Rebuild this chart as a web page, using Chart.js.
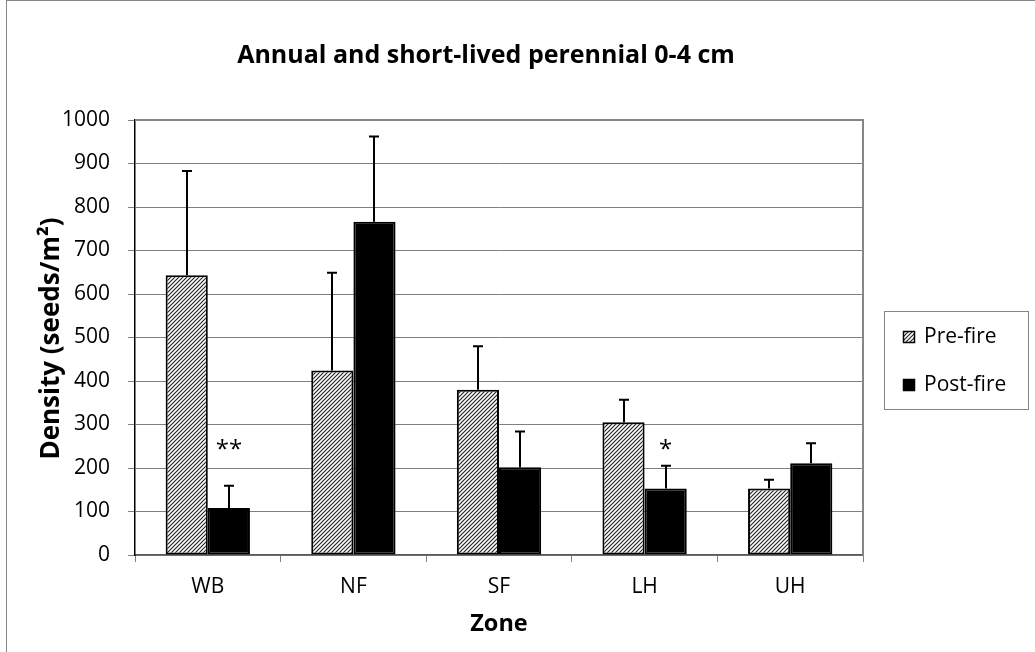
<!DOCTYPE html>
<html><head><meta charset="utf-8">
<script src="https://cdn.jsdelivr.net/npm/chart.js@4/dist/chart.umd.min.js"></script>
<style>html,body{margin:0;padding:0;background:#fff}#wrap{width:1035px;height:652px}</style>
</head><body><div id="wrap"><canvas id="c" width="1035" height="652"></canvas></div>
<script>
const categories = ['WB', 'NF', 'SF', 'LH', 'UH'];
const preFire = [643, 424, 380, 305, 153];
const preFireErr = [240, 225, 100, 52, 20];
const postFire = [108, 766, 202, 153, 211];
const postFireErr = [51, 196, 82, 52, 46];
const sigMarks = ['**', '', '', '*', ''];
const sigLevel = [250, null, null, 250, null];
const seriesNames = ['Pre-fire', 'Post-fire'];
const chartTitle = 'Annual and short-lived perennial 0-4 cm';
const yTitle = 'Density (seeds/m\u00B2)';
const xTitle = 'Zone';
const yMin = 0, yMax = 1000, yStep = 100;

const FAMILY = '"Open Sans", "DejaVu Sans", sans-serif';
const TICK_SIZE = 21;

function makeHatch() {
  const p = document.createElement('canvas');
  p.width = 4; p.height = 4;
  const g = p.getContext('2d');
  g.fillStyle = '#ffffff';
  g.fillRect(0, 0, 4, 4);
  g.strokeStyle = '#262626';
  g.lineWidth = 1.2;
  g.beginPath();
  g.moveTo(-1, 5); g.lineTo(5, -1);
  g.moveTo(-1, 1); g.lineTo(1, -1);
  g.moveTo(3, 5); g.lineTo(5, 3);
  g.stroke();
  return document.getElementById('c').getContext('2d').createPattern(p, 'repeat');
}
const hatch = makeHatch();

function fitSize(ctx, text, weight, target, start) {
  let s = start;
  while (s > 8) {
    ctx.font = weight + ' ' + s + 'px ' + FAMILY;
    if (ctx.measureText(text).width <= target) break;
    s -= 0.5;
  }
  return s;
}

const extras = {
  id: 'extras',
  beforeDatasetsDraw(chart) {
    const {ctx, chartArea: a} = chart;
    ctx.save();
    ctx.strokeStyle = '#868686';
    ctx.lineWidth = 2;
    ctx.beginPath();
    ctx.moveTo(a.left, a.top); ctx.lineTo(a.right, a.top); ctx.lineTo(a.right, a.bottom);
    ctx.stroke();
    ctx.restore();
  },
  afterDatasetsDraw(chart) {
    const {ctx, chartArea: a} = chart;
    const ys = chart.scales.y;
    ctx.save();
    const errs = [preFireErr, postFireErr];
    const vals = [preFire, postFire];
    ctx.strokeStyle = '#000';
    ctx.lineWidth = 2;
    for (let d = 0; d < 2; d++) {
      const meta = chart.getDatasetMeta(d);
      meta.data.forEach((bar, i) => {
        const x = Math.round(bar.x);
        const y0 = ys.getPixelForValue(vals[d][i]);
        const y1 = ys.getPixelForValue(vals[d][i] + errs[d][i]);
        ctx.beginPath();
        ctx.moveTo(x, y0); ctx.lineTo(x, y1);
        ctx.moveTo(x - 5, y1); ctx.lineTo(x + 5, y1);
        ctx.stroke();
      });
    }
    ctx.fillStyle = '#000';
    ctx.font = '24px ' + FAMILY;
    ctx.textAlign = 'center';
    ctx.textBaseline = 'middle';
    const metaPost = chart.getDatasetMeta(1);
    sigMarks.forEach((m, i) => {
      if (!m) return;
      ctx.fillText(m, metaPost.data[i].x, ys.getPixelForValue(sigLevel[i]) + 4);
    });
    ctx.strokeStyle = '#868686';
    ctx.lineWidth = 1;
    ctx.strokeRect(6.5, 0.5, 1100, 700);
    let s = fitSize(ctx, chartTitle, 'bold', 500, 26);
    ctx.font = 'bold ' + s + 'px ' + FAMILY;
    ctx.fillText(chartTitle, 486, 56);
    s = fitSize(ctx, xTitle, 'bold', 58, 26);
    ctx.font = 'bold ' + s + 'px ' + FAMILY;
    ctx.fillText(xTitle, (a.left + a.right) / 2, 624);
    s = fitSize(ctx, yTitle, 'bold', 274, 26);
    ctx.font = 'bold ' + s + 'px ' + FAMILY;
    ctx.save();
    ctx.translate(52, (a.top + a.bottom) / 2 + 1);
    ctx.rotate(-Math.PI / 2);
    ctx.fillText(yTitle, 0, 0);
    ctx.restore();
    const lx = 884, ly = 311, lw = 144, lh = 98;
    ctx.strokeStyle = '#868686';
    ctx.lineWidth = 1;
    ctx.strokeRect(lx + 0.5, ly + 0.5, lw, lh);
    const items = [{fill: hatch, y: 337}, {fill: '#000', y: 385}];
    ctx.font = TICK_SIZE + 'px ' + FAMILY;
    ctx.textAlign = 'left';
    items.forEach((it, k) => {
      ctx.fillStyle = it.fill;
      ctx.fillRect(903, it.y - 6, 12, 12);
      ctx.strokeStyle = '#000';
      ctx.lineWidth = 1.5;
      ctx.strokeRect(903.5, it.y - 5.5, 11, 11);
      ctx.fillStyle = '#000';
      ctx.fillText(seriesNames[k], 924, it.y);
    });
    ctx.restore();
  }
};

new Chart(document.getElementById('c'), {
  type: 'bar',
  data: {
    labels: categories,
    datasets: [
      {label: seriesNames[0], data: preFire, backgroundColor: hatch, borderColor: '#000', borderWidth: 2, borderSkipped: false, categoryPercentage: 0.579, barPercentage: 1},
      {label: seriesNames[1], data: postFire, backgroundColor: '#000', borderColor: '#000', borderWidth: 2, borderSkipped: false, categoryPercentage: 0.579, barPercentage: 1}
    ]
  },
  options: {
    responsive: false,
    animation: false,
    devicePixelRatio: 1,
    layout: {padding: {left: 0, top: 120, right: 172, bottom: 0}},
    plugins: {legend: {display: false}, title: {display: false}, tooltip: {enabled: false}},
    scales: {
      x: {
        grid: {display: true, drawOnChartArea: false, drawTicks: true, tickLength: 7, color: '#808080', offset: true},
        border: {color: '#5a5a5a', width: 1.5},
        ticks: {font: {family: FAMILY, size: TICK_SIZE}, color: '#000', padding: 12},
        afterFit: s => { s.height = 97; }
      },
      y: {
        min: yMin, max: yMax,
        ticks: {stepSize: yStep, font: {family: FAMILY, size: TICK_SIZE}, color: '#000', padding: 18, callback: v => String(v)},
        grid: {color: '#808080', tickLength: 7, lineWidth: 1},
        border: {color: '#000', width: 1.5},
        afterFit: s => { s.width = 135; }
      }
    }
  },
  plugins: [extras]
});
</script>
</body></html>
